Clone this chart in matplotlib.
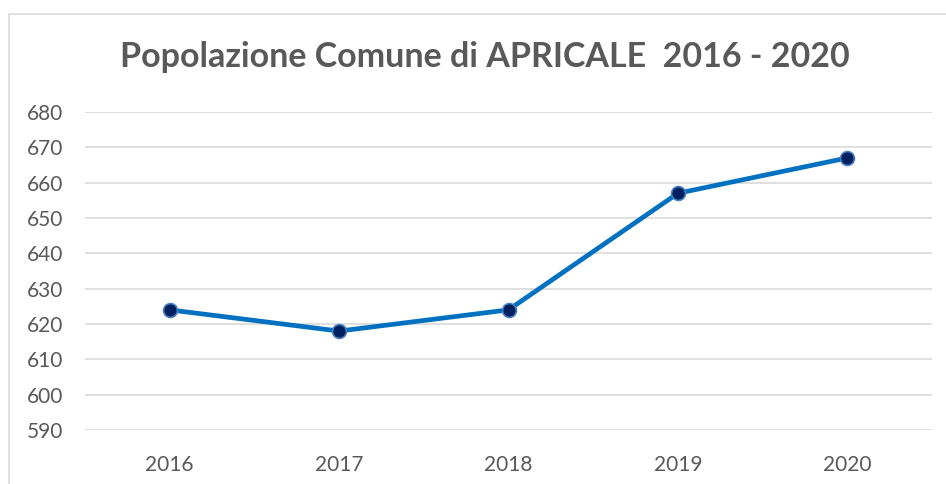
import matplotlib.pyplot as plt
from matplotlib.patches import Rectangle

# Data
years = ["2016", "2017", "2018", "2019", "2020"]
population = [624, 618, 624, 657, 667]
y_ticks = [590, 600, 610, 620, 630, 640, 650, 660, 670, 680]

plt.rcParams['font.family'] = ['Lato', 'DejaVu Sans']

fig = plt.figure(figsize=(9.46, 4.84), dpi=100)
ax = fig.add_axes([85 / 946, 1 - 430 / 484, (932 - 85) / 946, (430 - 112) / 484])

# chart border (cropped on right/bottom in the reference)
fig.patches.append(Rectangle((9 / 946, -0.1), 1.2, 1 - 14 / 484 + 0.1,
                             transform=fig.transFigure, fill=False,
                             edgecolor="#D9D9D9", linewidth=1.2))

x = range(len(years))
ax.plot(x, population, color="#0070C0", linewidth=3.4, zorder=3,
        marker="o", markersize=10, markerfacecolor="#002060",
        markeredgecolor="#4A7FC4", markeredgewidth=1.2)

ax.set_xlim(-0.5, len(years) - 0.5)
ax.set_ylim(590, 680)
ax.set_yticks(y_ticks)
ax.set_xticks(list(x))
ax.set_xticklabels(years)
ax.grid(axis="y", color="#D9D9D9", linewidth=1.2)
ax.set_axisbelow(True)
for s in ax.spines.values():
    s.set_visible(False)
ax.tick_params(length=0, labelsize=15, colors="#595959")
ax.tick_params(axis="y", pad=16)
ax.tick_params(axis="x", pad=18)

fig.text(485 / 946, 1 - 57 / 484, "Popolazione Comune di APRICALE  2016 - 2020",
         ha="center", va="center", fontsize=24.5, fontweight="bold", color="#595959")

fig.savefig("out.png", dpi=100)
